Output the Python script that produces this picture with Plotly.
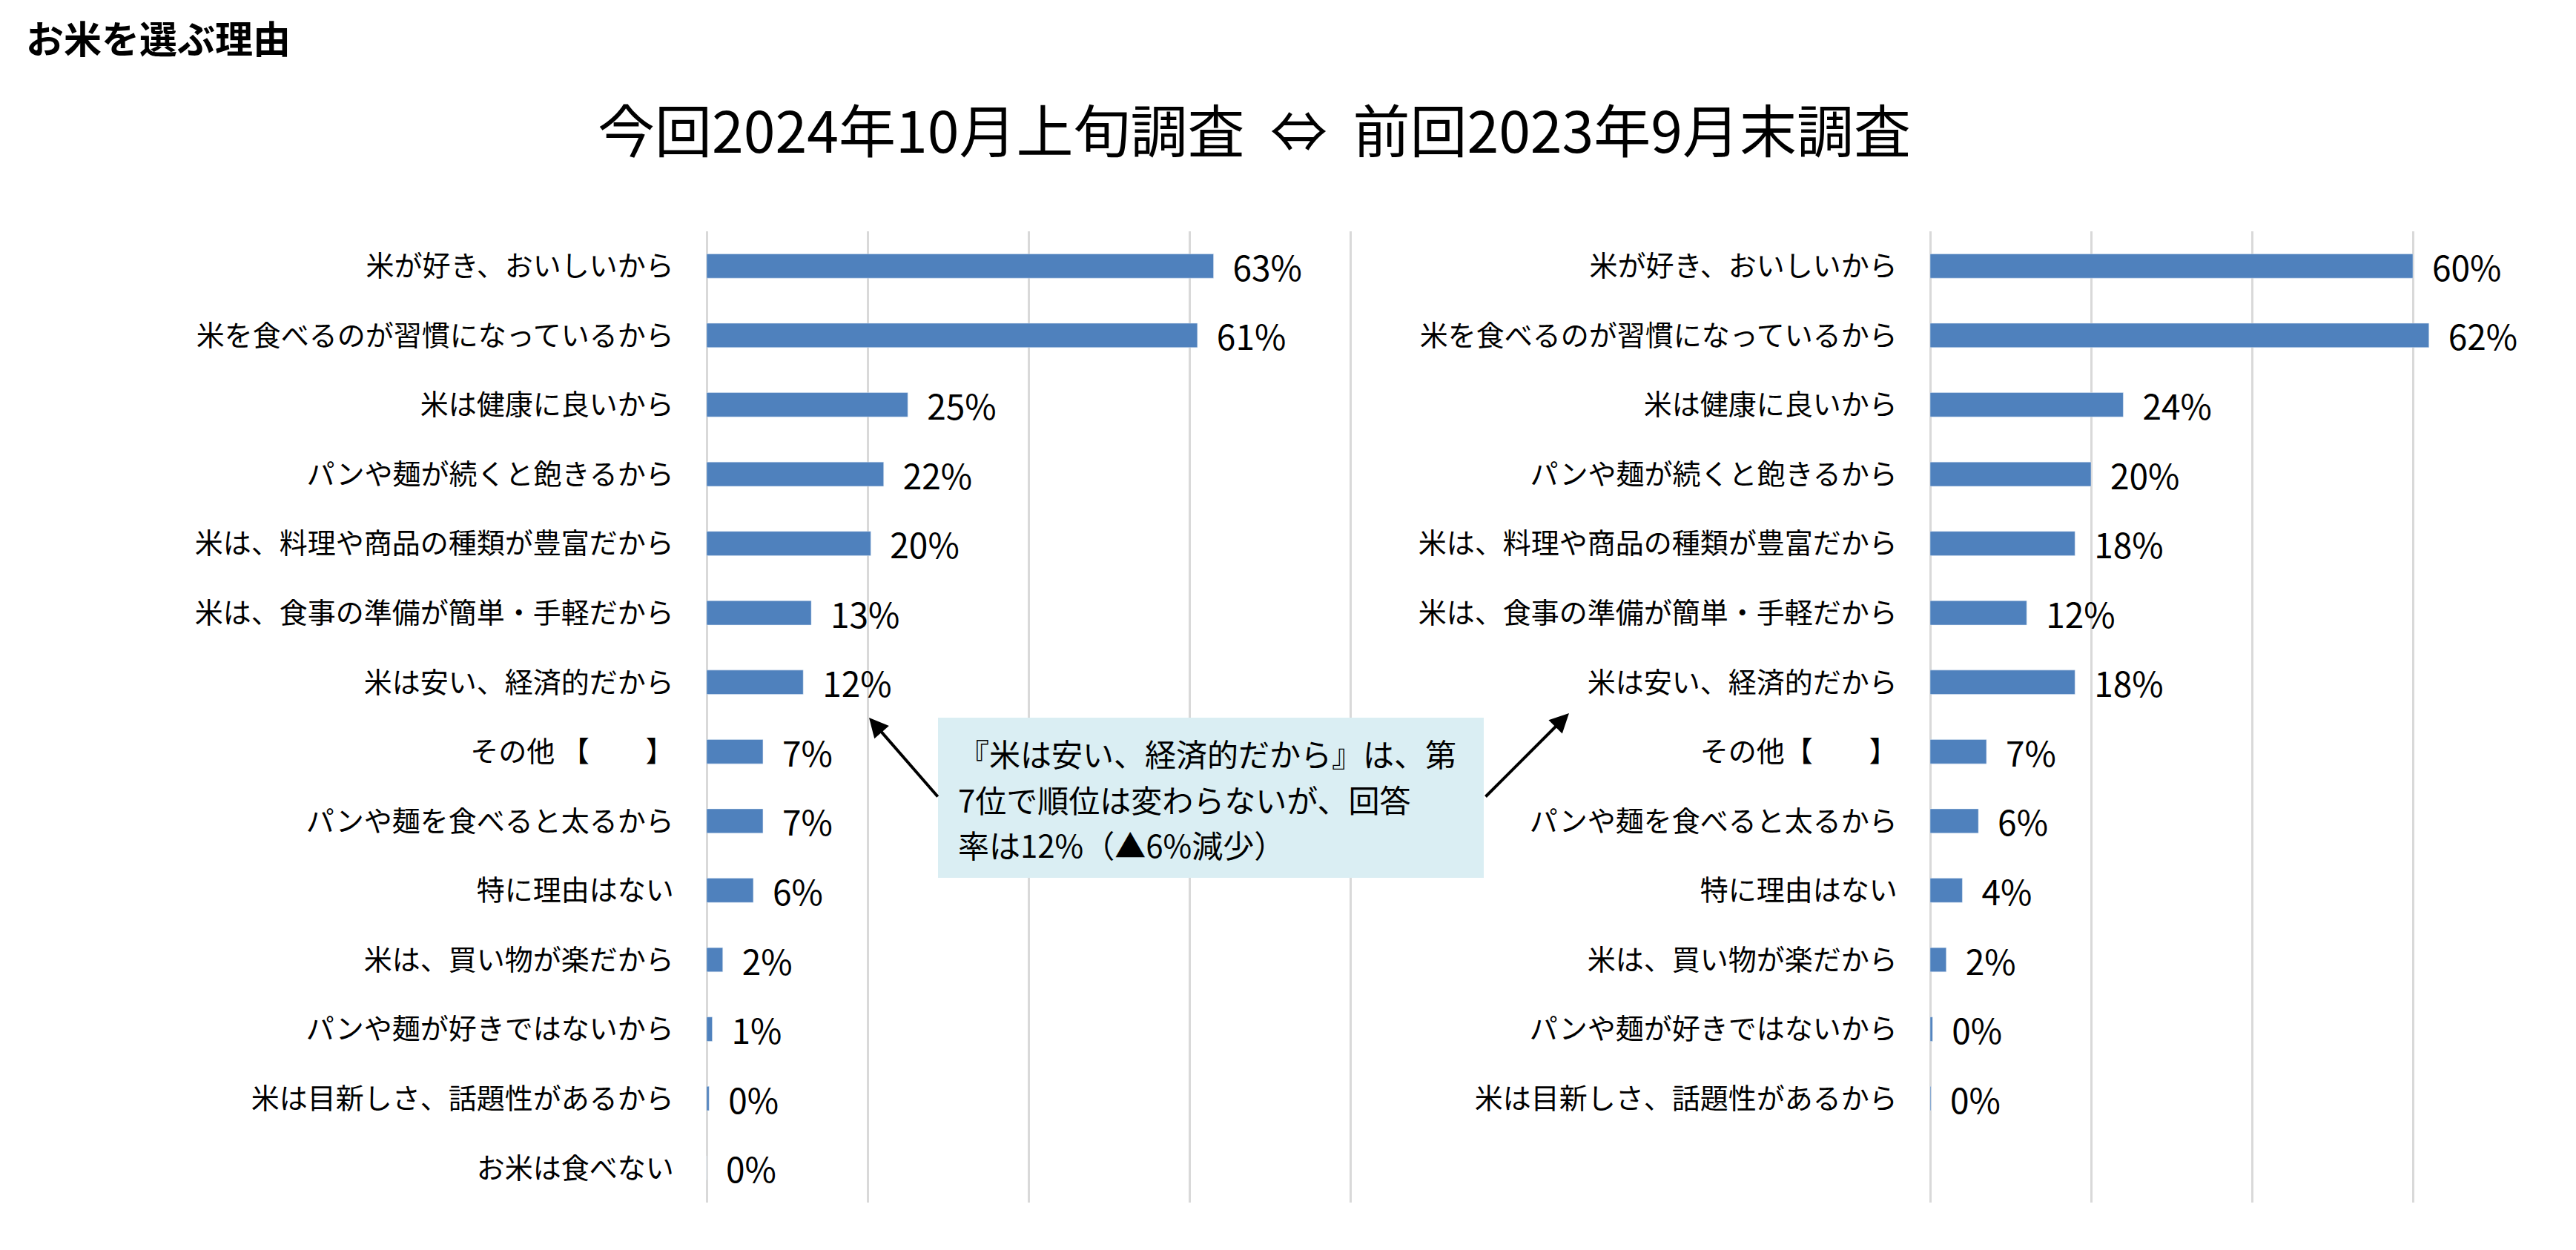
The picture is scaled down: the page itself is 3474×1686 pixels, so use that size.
import plotly.graph_objects as go

# 今回 2024年10月上旬調査
reasons_now = ["米が好き、おいしいから", "米を食べるのが習慣になっているから", "米は健康に良いから",
               "パンや麺が続くと飽きるから", "米は、料理や商品の種類が豊富だから", "米は、食事の準備が簡単・手軽だから",
               "米は安い、経済的だから", "その他 【　　】", "パンや麺を食べると太るから", "特に理由はない",
               "米は、買い物が楽だから", "パンや麺が好きではないから", "米は目新しさ、話題性があるから", "お米は食べない"]
pct_now = [63, 61, 25, 22, 20.4, 13, 12, 7, 7, 5.8, 2, 0.7, 0.3, 0]

# 前回 2023年9月末調査
reasons_prev = ["米が好き、おいしいから", "米を食べるのが習慣になっているから", "米は健康に良いから",
                "パンや麺が続くと飽きるから", "米は、料理や商品の種類が豊富だから", "米は、食事の準備が簡単・手軽だから",
                "米は安い、経済的だから", "その他【　　】", "パンや麺を食べると太るから", "特に理由はない",
                "米は、買い物が楽だから", "パンや麺が好きではないから", "米は目新しさ、話題性があるから"]
pct_prev = [60, 62, 24, 20, 18, 12, 18, 7, 6, 4, 2, 0.3, 0.1]

W, H = 3474, 1686
OFF = 8  # page margin of the browser
FONT = "Noto Sans CJK JP"
BAR = "#4F81BD"
GRID = "#D9D9D9"


def px(x):
    return (x - OFF) / W


def py(y):
    return 1 - (y - OFF) / H


PAD = 0.3  # keep the 0% and 80% grid lines inside the range
UNIT = 868 / 80  # pixels per percent point

fig = go.Figure()
fig.add_trace(go.Bar(x=pct_now, y=reasons_now, orientation="h", marker_color=BAR,
                     texttemplate="\u2002%{x:.0f}%", textposition="outside", constraintext="none",
                     cliponaxis=False, textfont=dict(size=46, color="black", family=FONT),
                     xaxis="x", yaxis="y", showlegend=False))
fig.add_trace(go.Bar(x=pct_prev, y=reasons_prev, orientation="h", marker_color=BAR,
                     texttemplate="\u2002%{x:.0f}%", textposition="outside", constraintext="none",
                     cliponaxis=False, textfont=dict(size=46, color="black", family=FONT),
                     xaxis="x2", yaxis="y2", showlegend=False))

xa = dict(range=[-PAD, 80 + PAD], tick0=0, dtick=20, showgrid=True, gridcolor=GRID, gridwidth=3,
          zeroline=False, showticklabels=False, fixedrange=True)
ya = dict(type="category", range=[13.5, -0.5], showgrid=False, zeroline=False,
          ticks="", ticklabelstandoff=40, tickfont=dict(size=38, color="black", family=FONT))

ydom = [py(1622), py(312)]
fig.update_layout(
    width=W, height=H, margin=dict(l=0, r=0, t=0, b=0),
    paper_bgcolor="white", plot_bgcolor="white",
    font=dict(family=FONT, color="black"),
    bargap=0.65,
    xaxis=dict(domain=[px(953 - PAD * UNIT), px(1821 + PAD * UNIT)], anchor="y", **xa),
    yaxis=dict(domain=ydom, anchor="x", categoryarray=reasons_now, **ya),
    xaxis2=dict(domain=[px(2603 - PAD * UNIT), px(3471 + PAD * UNIT)], anchor="y2", **xa),
    yaxis2=dict(domain=ydom, anchor="x2", categoryarray=reasons_prev, **ya),
)

# titles
fig.add_annotation(text="<b>お米を選ぶ理由</b>", xref="paper", yref="paper", x=px(33), y=py(50),
                   xanchor="left", yanchor="middle", showarrow=False, font=dict(size=51, family=FONT))
fig.add_annotation(text="今回2024年10月上旬調査\u00a0\u00a0⇔\u00a0\u00a0前回2023年9月末調査",
                   xref="paper", yref="paper", x=px(1691), y=py(172),
                   xanchor="center", yanchor="middle", showarrow=False, font=dict(size=77, family=FONT))

# callout box
fig.add_shape(type="rect", xref="paper", yref="paper", x0=px(1265), x1=px(2001),
              y0=py(1184), y1=py(968), fillcolor="#DAEEF3", line=dict(width=0), layer="above")
callout = ["『米は安い、経済的だから』は、第", "7位で順位は変わらないが、回答", "率は12%（▲6%減少）"]
for line, yy in zip(callout, [1015, 1077, 1138]):
    fig.add_annotation(text=line, xref="paper", yref="paper", x=px(1290), y=py(yy),
                       xanchor="left", yanchor="middle", showarrow=False, font=dict(size=42, family=FONT))

# arrows
fig.add_annotation(text="", xref="paper", yref="paper", x=px(1172), y=py(968),
                   ax=94, ay=108, showarrow=True, arrowhead=2, arrowsize=1.3, arrowwidth=4, arrowcolor="black")
fig.add_annotation(text="", xref="paper", yref="paper", x=px(2116), y=py(962),
                   ax=-114, ay=114, showarrow=True, arrowhead=2, arrowsize=1.3, arrowwidth=4, arrowcolor="black")

fig.write_html("out.html")
